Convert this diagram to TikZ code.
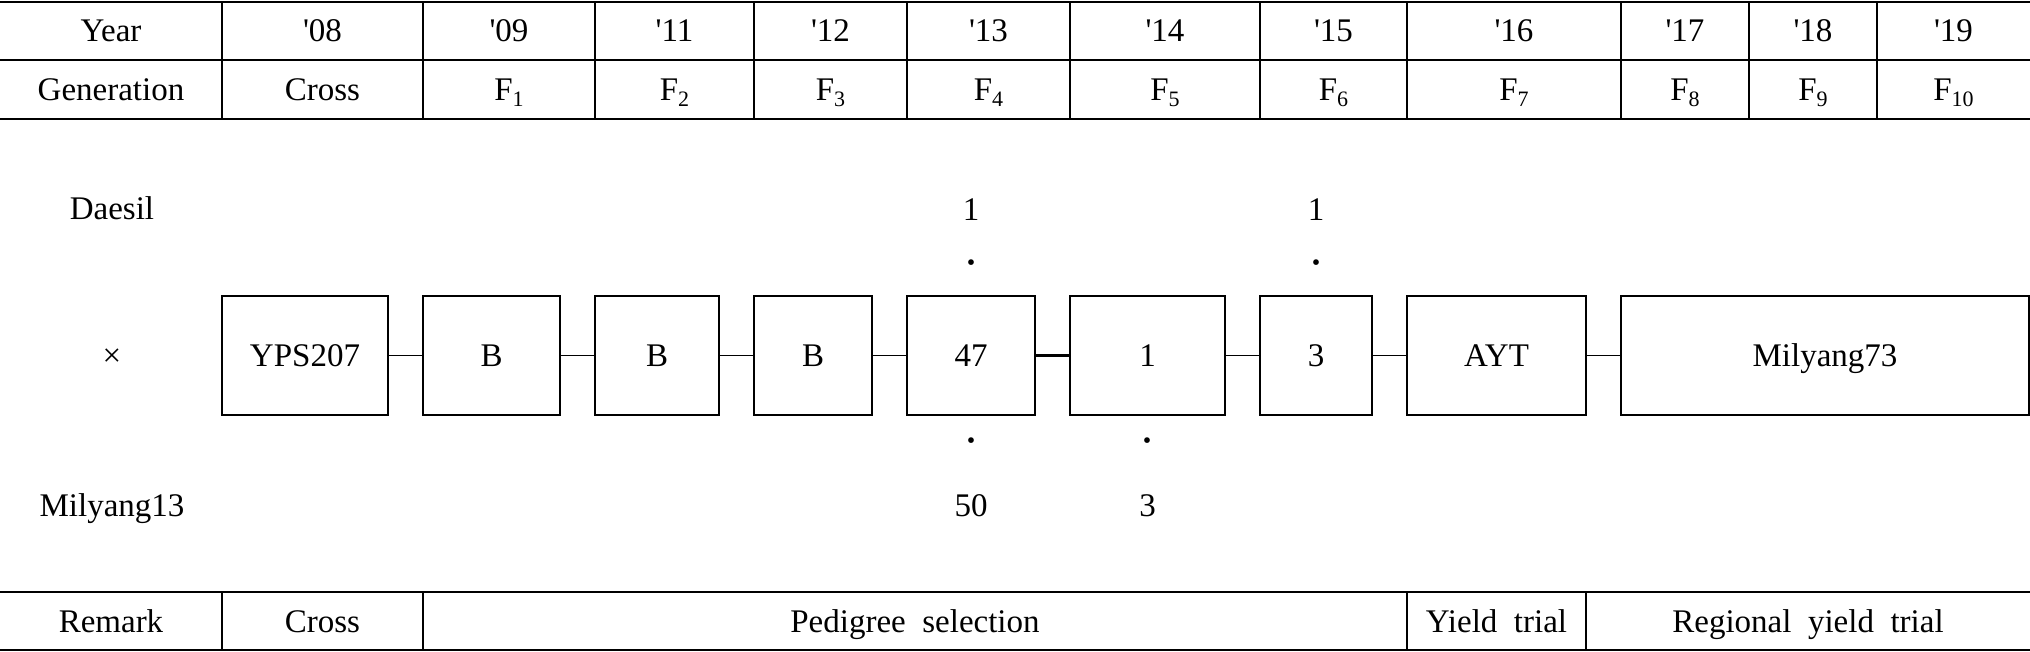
\documentclass[tikz,border=0pt]{standalone}
\usepackage{fontspec}
\setmainfont{Liberation Serif}
\newcommand{\ap}{\textquotesingle}
\newcommand{\fs}[1]{F\raisebox{-0.35ex}{\fontsize{11}{11}\selectfont #1}}
\begin{document}
\begin{tikzpicture}[x=0.5pt,y=-0.5pt,
  txt/.style={font=\fontsize{16.5}{20}\selectfont, inner sep=0pt, anchor=base},
  dotmark/.style={font=\fontsize{24}{24}\selectfont, inner sep=0pt, anchor=base},
  bx/.style={draw, line width=0.75pt, minimum height=59.5pt, inner sep=0pt,
    text height=14pt, text depth=3pt, font=\fontsize{16.5}{20}\selectfont},
  thickrule/.style={line width=1.2pt},
  thinrule/.style={line width=0.55pt},
  link/.style={line width=0.7pt},
  boldlink/.style={line width=1.1pt}]
\useasboundingbox (0,0) rectangle (2030,652);
% ---------- top table ----------
\draw[thickrule] (0,2) -- (2030,2);
\draw[thinrule] (0,60) -- (2030,60);
\draw[thickrule] (0,119) -- (2030,119);
\foreach \xx in {222,423,595,754,907,1070,1260,1407,1621,1749,1877}
  \draw[thinrule] (\xx,2) -- (\xx,119);
\node[txt] (yr)  at (111,42)    {Year};
\node[txt] (y08) at (322.5,42)  {\ap08};
\node[txt] (y09) at (509,42)    {\ap09};
\node[txt] (y11) at (674.5,42)  {\ap11};
\node[txt] (y12) at (830.5,42)  {\ap12};
\node[txt] (y13) at (988.5,42)  {\ap13};
\node[txt] (y14) at (1165,42)   {\ap14};
\node[txt] (y15) at (1333.5,42) {\ap15};
\node[txt] (y16) at (1514,42)   {\ap16};
\node[txt] (y17) at (1685,42)   {\ap17};
\node[txt] (y18) at (1813,42)   {\ap18};
\node[txt] (y19) at (1953.5,42) {\ap19};
\node[txt] (gen) at (111,101)    {Generation};
\node[txt] (g0)  at (322.5,101)  {Cross};
\node[txt] (g1)  at (509,101)    {\fs{1}};
\node[txt] (g2)  at (674.5,101)  {\fs{2}};
\node[txt] (g3)  at (830.5,101)  {\fs{3}};
\node[txt] (g4)  at (988.5,101)  {\fs{4}};
\node[txt] (g5)  at (1165,101)   {\fs{5}};
\node[txt] (g6)  at (1333.5,101) {\fs{6}};
\node[txt] (g7)  at (1514,101)   {\fs{7}};
\node[txt] (g8)  at (1685,101)   {\fs{8}};
\node[txt] (g9)  at (1813,101)   {\fs{9}};
\node[txt] (g10) at (1953.5,101) {\fs{10}};
% ---------- parents ----------
\node[txt] (daesil) at (112,220) {Daesil};
\node[txt] (cross)  at (112,366.5) {×};
\node[txt] (mil13)  at (112,516) {Milyang13};
% ---------- boxes ----------
\node[bx, minimum width=83pt]   (bA)  at (305,355.5)    {YPS207};
\node[bx, minimum width=68.5pt] (bB1) at (491.5,355.5)  {B};
\node[bx, minimum width=62pt]   (bB2) at (657,355.5)    {B};
\node[bx, minimum width=59pt]   (bB3) at (813,355.5)    {B};
\node[bx, minimum width=64pt]   (b47) at (971,355.5)    {47};
\node[bx, minimum width=77.5pt] (b1)  at (1147.5,355.5) {1};
\node[bx, minimum width=56pt]   (b3)  at (1316,355.5)   {3};
\node[bx, minimum width=89.5pt] (bAYT) at (1496.5,355.5) {AYT};
\node[bx, minimum width=204pt]  (bM)  at (1825,355.5)   {Milyang73};
\draw[link] (bA) -- (bB1);
\draw[link] (bB1) -- (bB2);
\draw[link] (bB2) -- (bB3);
\draw[link] (bB3) -- (b47);
\draw[boldlink] (b47) -- (b1);
\draw[link] (b1) -- (b3);
\draw[link] (b3) -- (bAYT);
\draw[link] (bAYT) -- (bM);
% ---------- pedigree numbers ----------
\node[txt] (n47a) at (971,221)   {1};
\node[dotmark] (d47a) at (971,279) {·};
\node[dotmark] (d47b) at (971,456) {·};
\node[txt] (n47b) at (971,516)   {50};
\node[txt] (n3a)  at (1316,221)  {1};
\node[dotmark] (d3a)  at (1316,279) {·};
\node[dotmark] (d1b)  at (1147.5,456) {·};
\node[txt] (n1b)  at (1147.5,516) {3};
% ---------- bottom table ----------
\draw[thickrule] (0,592) -- (2030,592);
\draw[thickrule] (0,650) -- (2030,650);
\foreach \xx in {222,423,1407,1586}
  \draw[thinrule] (\xx,592) -- (\xx,650);
\node[txt] (rem)  at (111,632)    {Remark};
\node[txt] (rc)   at (322.5,632)  {Cross};
\node[txt] (rped) at (915,632)    {Pedigree~~selection};
\node[txt] (ryt)  at (1496.5,632) {Yield~~trial};
\node[txt] (rryt) at (1808,632)   {Regional~~yield~~trial};
\end{tikzpicture}
\end{document}
